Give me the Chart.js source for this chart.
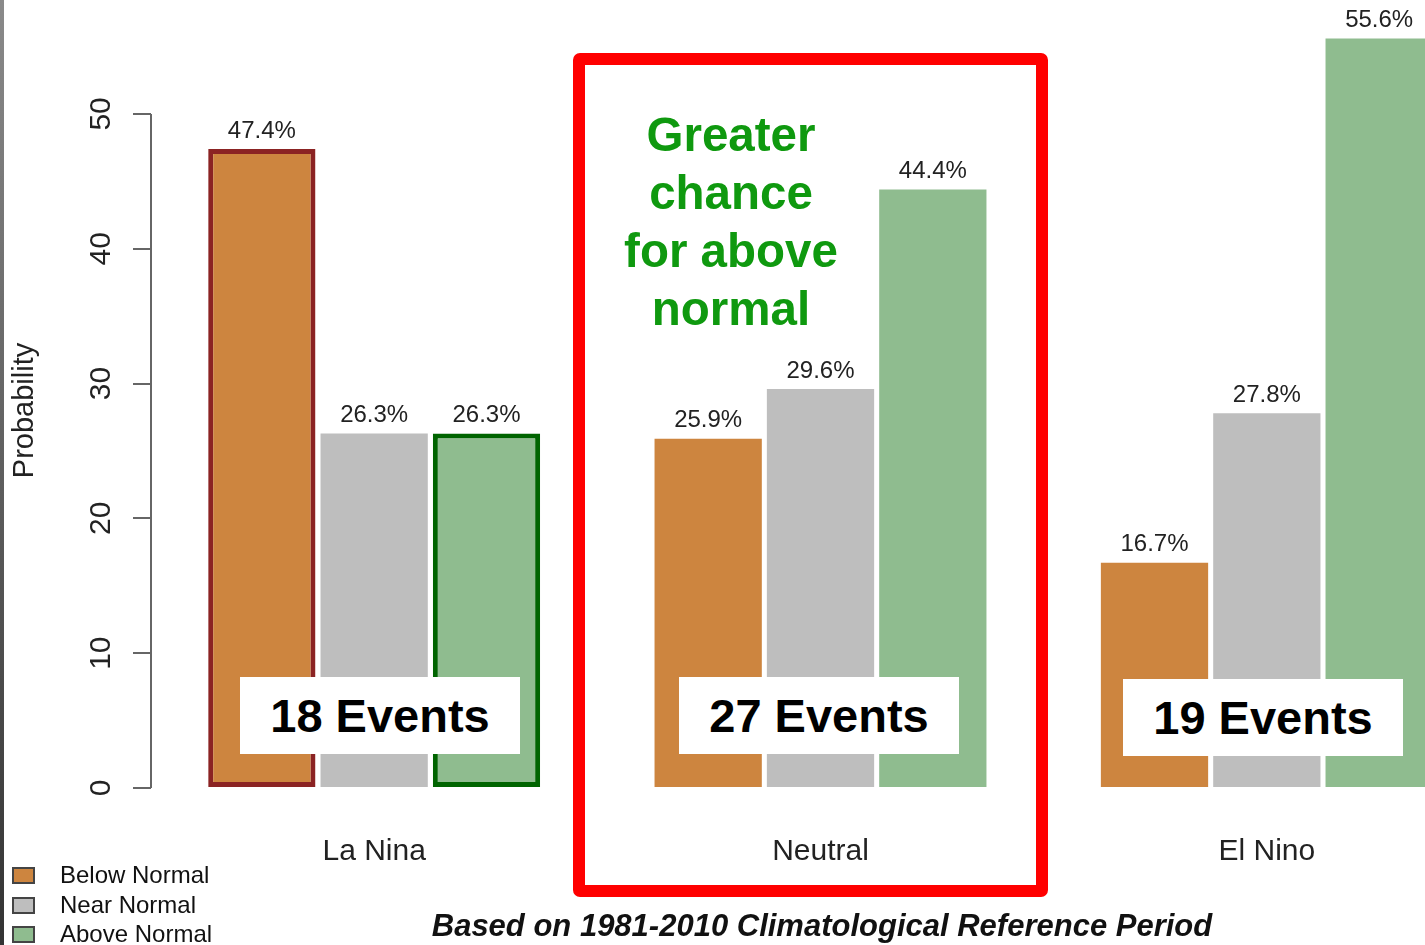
<!DOCTYPE html>
<html>
<head>
<meta charset="utf-8">
<script src="https://cdn.jsdelivr.net/npm/chart.js@4.4.1/dist/chart.umd.min.js"></script>
<style>
  html, body { margin: 0; padding: 0; overflow: hidden; background: #fff; width: 1425px; height: 945px; }
  body { position: relative; font-family: "Liberation Sans", Arial, sans-serif; }
  #wrap { position: absolute; left: 0; top: 0; width: 1490px; height: 945px; }
  .edge { position: absolute; left: 0; top: 0; width: 4px; height: 945px; background: linear-gradient(#8a8a8a, #333); }
  .redbox { position: absolute; left: 573px; top: 53px; width: 451px; height: 820px; border: 12px solid #ff0000; border-radius: 7px; }
  .note { position: absolute; left: 561px; top: 106px; width: 340px; text-align: center; color: #0f990f; font-weight: bold; font-size: 47.5px; line-height: 58px; }
  .events { position: absolute; width: 280px; height: 77px; background: #fff; color: #000; font-weight: bold; font-size: 47px; line-height: 77px; text-align: center; }
  .legend { position: absolute; left: 12px; top: 860px; font-size: 24px; color: #111; }
  .legend div { height: 29.5px; line-height: 29.5px; position: relative; padding-left: 48px; white-space: nowrap; }
  .legend span { position: absolute; left: 0; top: 7px; width: 19px; height: 13px; border: 2px solid #444; }
  .caption { position: absolute; left: 322px; top: 908px; width: 1000px; text-align: center; font-weight: bold; font-style: italic; font-size: 31px; line-height: 36px; color: #111; }
</style>
</head>
<body>
<div id="wrap"><canvas id="myChart"></canvas></div>
<div class="edge"></div>
<div class="redbox"></div>
<div class="note">Greater<br>chance<br>for above<br>normal</div>
<div id="eventBoxes"></div>
<div class="legend" id="legend"></div>
<div class="caption">Based on 1981-2010 Climatological Reference Period</div>
<script>
const categories = ['La Nina', 'Neutral', 'El Nino'];
const seriesNames = ['Below Normal', 'Near Normal', 'Above Normal'];
const belowNormal = [47.4, 25.9, 16.7];
const nearNormal = [26.3, 29.6, 27.8];
const aboveNormal = [26.3, 44.4, 55.6];
const eventCounts = ['18 Events', '27 Events', '19 Events'];
const yTicks = [0, 10, 20, 30, 40, 50];

const colors = ['#CD853F', '#BEBEBE', '#8FBC8F'];

// white event boxes and legend rows
const boxPos = [[240, 677], [679, 677], [1123, 679]];
const boxes = document.getElementById('eventBoxes');
eventCounts.forEach((txt, i) => {
    const d = document.createElement('div');
    d.className = 'events';
    d.style.left = boxPos[i][0] + 'px';
    d.style.top = boxPos[i][1] + 'px';
    d.textContent = txt;
    boxes.appendChild(d);
});
const legend = document.getElementById('legend');
seriesNames.forEach((name, i) => {
    const row = document.createElement('div');
    row.innerHTML = '<span style="background:' + colors[i] + '"></span>' + name;
    legend.appendChild(row);
});

// value labels over the bars + short y axis line (0..50)
const extras = {
    id: 'extras',
    afterDatasetsDraw(chart) {
        const ctx = chart.ctx;
        ctx.save();
        ctx.font = '24px "Liberation Sans", Arial, sans-serif';
        ctx.fillStyle = '#222';
        ctx.textAlign = 'center';
        ctx.textBaseline = 'middle';
        chart.data.datasets.forEach((ds, di) => {
            chart.getDatasetMeta(di).data.forEach((bar, i) => {
                ctx.fillText(ds.data[i].toFixed(1) + '%', bar.x, bar.y - 18);
            });
        });
        const y = chart.scales.y;
        const x = chart.chartArea.left;
        ctx.strokeStyle = '#666';
        ctx.lineWidth = 2;
        ctx.beginPath();
        ctx.moveTo(x, y.getPixelForValue(0));
        ctx.lineTo(x, y.getPixelForValue(50));
        ctx.stroke();
        ctx.restore();
    }
};

const mk = (label, data, color, border) => ({
    label: label,
    data: data,
    backgroundColor: color,
    borderColor: border ? [border, 'rgba(0,0,0,0)', 'rgba(0,0,0,0)'] : 'rgba(0,0,0,0)',
    borderWidth: border ? [5, 0, 0] : 0,
    borderSkipped: false,
    categoryPercentage: 0.755,
    barPercentage: 0.955
});

const myChart = new Chart(document.getElementById('myChart'), {
    type: 'bar',
    data: {
        labels: categories,
        datasets: [
            mk(seriesNames[0], belowNormal, colors[0], '#8B2323'),
            mk(seriesNames[1], nearNormal, colors[1], null),
            mk(seriesNames[2], aboveNormal, colors[2], '#006400')
        ]
    },
    options: {
        responsive: true,
        maintainAspectRatio: false,
        animation: false,
        layout: { padding: { top: 3, right: 0, left: 0, bottom: 0 } },
        plugins: { legend: { display: false }, tooltip: { enabled: false } },
        scales: {
            x: {
                grid: { display: false, drawTicks: false },
                border: { display: false },
                ticks: { color: '#222', font: { size: 30, family: '"Liberation Sans", Arial, sans-serif' }, padding: 46 },
                afterFit: (scale) => { scale.height = 157; }
            },
            y: {
                min: 0,
                max: 56,
                afterBuildTicks: (scale) => { scale.ticks = yTicks.map(v => ({ value: v })); },
                grid: { drawOnChartArea: false, tickLength: 18, color: '#666', lineWidth: 2 },
                border: { display: false },
                ticks: {
                    color: '#222',
                    font: { size: 30, family: '"Liberation Sans", Arial, sans-serif' },
                    minRotation: 90,
                    maxRotation: 90,
                    crossAlign: 'center',
                    padding: 15
                },
                title: {
                    display: true,
                    text: 'Probability',
                    color: '#222',
                    font: { size: 29, family: '"Liberation Sans", Arial, sans-serif' },
                    padding: { top: 8, bottom: 0 }
                },
                afterFit: (scale) => { scale.width = 151; }
            }
        }
    },
    plugins: [extras]
});
</script>
</body>
</html>
